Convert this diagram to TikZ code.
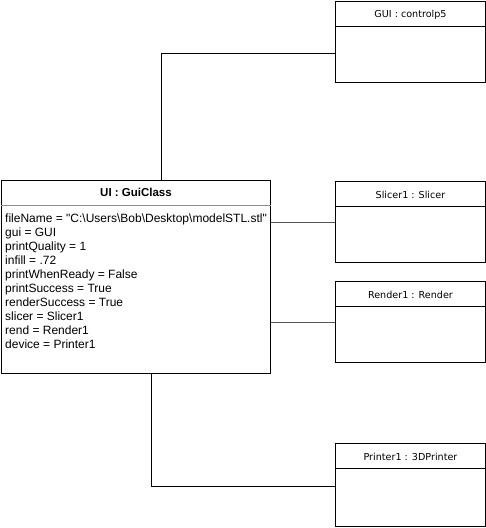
\documentclass[tikz,border=0pt]{standalone}
\usepackage{fontspec}
\setmainfont{Liberation Sans}
\newfontfamily\objfont{DejaVu Sans}
\definecolor{umlsep}{HTML}{8E8E8E}
\definecolor{umlwire}{HTML}{555555}
\tikzset{
  objbox/.style={draw=black,line width=1pt,minimum width=150pt,minimum height=81pt,anchor=north west,inner sep=0pt},
  objtitle/.style={font=\objfont\fontsize{9.6}{11}\selectfont,inner sep=0pt},
  wire/.style={draw=black,line width=1pt},
}

\begin{document}
\begin{tikzpicture}[x=1pt,y=-1pt]
  \useasboundingbox (0,0) rectangle (486,528);
  % object boxes on the right
  \node[objbox] (gui) at (335,1) {};
  \node[objbox] (slicer) at (335,181) {};
  \node[objbox] (render) at (335,281) {};
  \node[objbox,minimum height=83pt] (printer) at (335,443) {};
  \foreach \o/\t in {gui/GUI : controlp5,slicer/Slicer1 : Slicer,render/Render1 : Render,printer/Printer1 : 3DPrinter}{
    \draw[line width=1pt] ([yshift=-25pt]\o.north west) -- ([yshift=-25pt]\o.north east);
    \node[objtitle] (\o title) at ([yshift=-13.5pt]\o.north) {\t};
  }
  % the GuiClass instance
  \node[objbox,minimum width=269pt,minimum height=193pt] (ui) at (1,180) {};
  \node[font=\bfseries\fontsize{11.5}{13}\selectfont,inner sep=0pt] (uititle) at ([yshift=-12.5pt]ui.north) {UI : GuiClass};
  \draw[umlsep,line width=1pt] ([yshift=-25pt]ui.north west) -- ([yshift=-25pt]ui.north east);
  \node[anchor=base west,align=left,inner sep=0pt,font=\fontsize{12}{14}\selectfont] (uiattrs) at (5,348) {%
    fileName = \textquotedbl C:\textbackslash Users\textbackslash Bob\textbackslash Desktop\textbackslash modelSTL.stl\textquotedbl\\
    gui = GUI\\
    printQuality = 1\\
    infill = .72\\
    printWhenReady = False\\
    printSuccess = True\\
    renderSuccess = True\\
    slicer = Slicer1\\
    rend = Render1\\
    device = Printer1};
  % links
  \coordinate (guiknee) at (161,53);
  \coordinate (slicerjoin) at (0,222);
  \coordinate (renderjoin) at (0,322);
  \coordinate (printerknee) at (151,486);
  \draw[wire] (gui.west |- guiknee) -- (guiknee) -- (guiknee |- ui.north);
  \draw[wire,umlwire] (ui.east |- slicerjoin) -- (slicer.west |- slicerjoin);
  \draw[wire,umlwire] (ui.east |- renderjoin) -- (render.west |- renderjoin);
  \draw[wire] (printerknee |- ui.south) -- (printerknee) -- (printer.west |- printerknee);
\end{tikzpicture}
\end{document}
